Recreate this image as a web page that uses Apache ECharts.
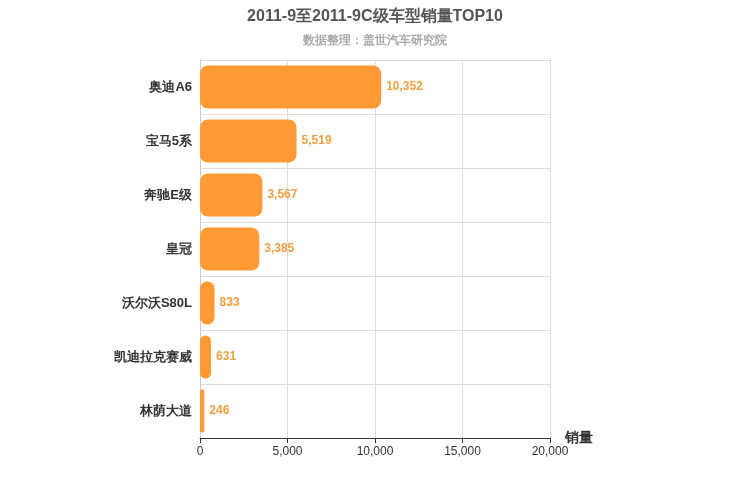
<!DOCTYPE html>
<html><head><meta charset="utf-8">
<script src="https://cdn.jsdelivr.net/npm/echarts@6/dist/echarts.min.js"></script>
<style>html,body{margin:0;padding:0}#c{width:750px;height:500px}</style>
</head><body><div id="c"></div>
<script>
const categories = ['奥迪A6','宝马5系','奔驰E级','皇冠','沃尔沃S80L','凯迪拉克赛威','林荫大道'];
const sales = [10352,5519,3567,3385,833,631,246];
const chart = echarts.init(document.getElementById('c'));
chart.setOption({
  title:{text:'2011-9至2011-9C级车型销量TOP10',subtext:'数据整理：盖世汽车研究院',left:'center',top:4,
    textStyle:{fontSize:16,fontWeight:'bold',color:'#555',fontFamily:'Arial'},
    subtextStyle:{fontSize:12,color:'#aaa',fontWeight:'bold'},itemGap:10},
  grid:{left:200,right:200,top:60,bottom:62},
  xAxis:{type:'value',min:0,max:20000,interval:5000,name:'销量',nameLocation:'end',
    nameTextStyle:{fontSize:14,fontWeight:'bold',color:'#333',padding:[28,0,0,0]},
    axisLine:{show:true,lineStyle:{color:'#333'}},axisTick:{show:true},
    axisLabel:{color:'#333',fontSize:12},splitLine:{lineStyle:{color:'#ddd'}}},
  yAxis:{type:'category',data:categories,inverse:true,
    axisLabel:{color:'#333',fontSize:13,fontWeight:'bold'},
    axisLine:{lineStyle:{color:'#ccc'}},axisTick:{show:false},
    splitLine:{show:true,lineStyle:{color:'#ddd'}}},
  series:[{type:'bar',data:sales,barWidth:'80%',
    itemStyle:{color:'#ff9a35',borderRadius:8},
    label:{show:true,position:'right',color:'#f0a040',fontWeight:'bold',fontSize:12,
      formatter:p=>p.value.toLocaleString('en-US')}}]
});
</script></body></html>
